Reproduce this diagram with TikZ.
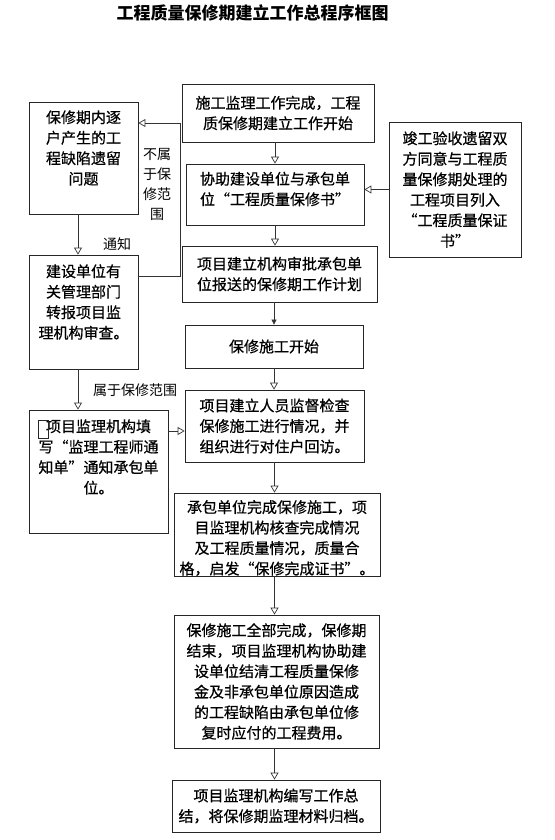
\documentclass[tikz,border=0pt]{standalone}
\usepackage{fontspec}
\setmainfont{Noto Sans CJK SC}
\newfontfamily\boxfont{Noto Sans CJK SC}[FakeBold=0.6]
\usetikzlibrary{arrows.meta,calc}
\begin{document}
\begin{tikzpicture}[x=1pt,y=-1pt,
  box/.style={draw=black!85, line width=0.8pt, inner sep=0pt, align=center, font=\boxfont\fontsize{15}{20.5}\selectfont},
  txt/.style={inner sep=0pt, align=center, font=\boxfont\fontsize{15}{20.5}\selectfont},
  lbl/.style={inner sep=0pt, align=center, font=\fontsize{14}{20}\selectfont},
  oarr/.style={draw=black!80, line width=0.7pt, -{Triangle[open,length=7pt,width=8pt]}},
  farr/.style={draw=black!80, line width=0.7pt, -{Triangle[length=5pt,width=5pt]}}]
\useasboundingbox (0,0) rectangle (554,840);
\node[font=\bfseries\fontsize{17}{20}\selectfont, inner sep=0pt] (T) at (252.5,13) {工程质量保修期建立工作总程序框图};
% centre column
\node[box, minimum width=192pt, minimum height=58pt] (A) at (278,113) {施工监理工作完成，工程\\质保修期建立工作开始};
\node[box, minimum width=178pt, minimum height=61pt] (B) at (275,194.5) {};
\node[txt, align=left] (Bt) at (275,189) {协助建设单位与承包单\\位“工程质量保修书”};
\node[box, minimum width=195pt, minimum height=56pt] (C) at (279.5,274) {项目建立机构审批承包单\\位报送的保修期工作计划};
\node[box, minimum width=178pt, minimum height=43pt] (P) at (274,346.5) {保修施工开始};
\node[box, minimum width=179pt, minimum height=72pt] (D) at (274.5,426) {项目建立人员监督检查\\保修施工进行情况，并\\组织进行对住户回访。};
\node[box, minimum width=206pt, minimum height=83pt] (E) at (277,534.5) {};
\node[txt] (Et) at (277,538) {承包单位完成保修施工，项\\目监理机构核查完成情况\\及工程质量情况，质量合\\格，启发“保修完成证书”。};
\node[box, minimum width=205pt, minimum height=133pt] (F) at (276.5,681.5) {保修施工全部完成，保修期\\结束，项目监理机构协助建\\设单位结清工程质量保修\\金及非承包单位原因造成\\的工程缺陷由承包单位修\\复时应付的工程费用。};
\node[box, minimum width=208pt, minimum height=52pt] (G) at (276,806) {项目监理机构编写工作总\\结，将保修期监理材料归档。};
% right box
\node[box, minimum width=132pt, minimum height=135pt] (R) at (455,189.5) {竣工验收遗留双\\方同意与工程质\\量保修期处理的\\工程项目列入\\“工程质量保证\\书”};
% left column
\node[box, minimum width=109pt, minimum height=112pt] (L1) at (83.5,158) {};
\node[txt] (L1t) at (83.5,148) {保修期内逐\\户产生的工\\程缺陷遗留\\问题};
\node[box, minimum width=109pt, minimum height=114pt] (L2) at (83.5,312) {};
\node[txt] (L2t) at (83.5,302) {建设单位有\\关管理部门\\转报项目监\\理机构审查。};
\node[box, minimum width=139pt, minimum height=123pt] (L3) at (98.5,471.5) {};
\node[txt] (L3t) at (98.5,457) {项目监理机构填\\写“监理工程师通\\知单”通知承包单\\位。};
\node[draw=black!85, line width=0.8pt, minimum width=10pt, minimum height=18pt, inner sep=0pt] (sq) at (43,429) {};
% connectors in centre
\draw[oarr] (A.south -| B.north) -- (B.north);
\draw[oarr] (B.south) -- (B.south |- C.north);
\draw[farr] (P.north |- C.south) -- (P.north);
\draw[oarr] (P.south) -- (P.south |- D.north);
\draw[oarr] (D.south) -- (D.south |- E.north);
\draw[oarr] (D.south |- E.south) -- (D.south |- F.north);
\draw[oarr] (D.south |- F.south) -- (D.south |- G.north);
\draw[oarr] (R.west) -- (R.west -| B.east);
% left connectors
\coordinate (k) at (180,123);
\draw[oarr] ($(L2.north east)+(0,22)$) -| (k) -- (k -| L1.east);
\node[lbl] (nb) at (157,184) {不属\\于保\\修范\\围};
\coordinate (lx) at (78,0);
\draw[oarr] (lx |- L1.south) -- (lx |- L2.north);
\node[lbl] (tz) at (117,244) {通知};
\draw[oarr] (lx |- L2.south) -- (lx |- L3.north);
\node[lbl] (sy) at (135,390) {属于保修范围};
\draw[oarr] ($(L3.east |- D.west)+(0,5)$) -- ($(D.west)+(0,5)$);
\end{tikzpicture}
\end{document}
